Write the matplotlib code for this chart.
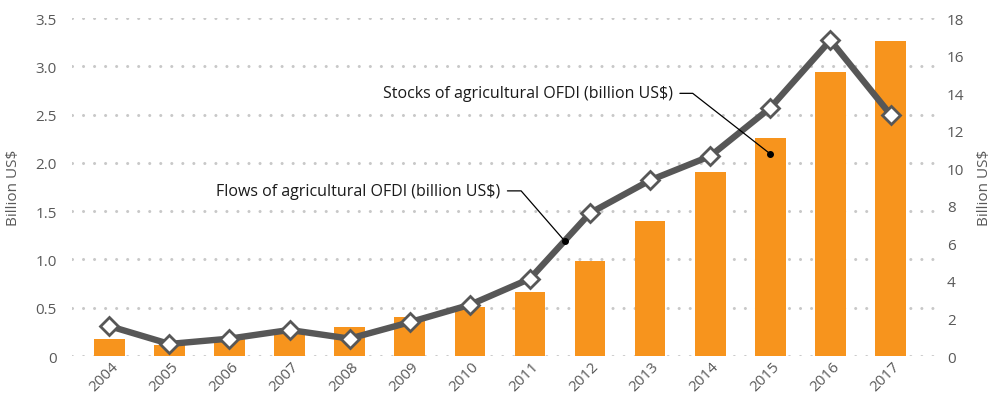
"""
Agricultural OFDI — stocks (bars, right axis) vs flows (line, left axis), 2004-2017
"""

import matplotlib
matplotlib.use("Agg")
import matplotlib.pyplot as plt
import matplotlib.transforms as mtransforms
from matplotlib.ticker import FuncFormatter, MultipleLocator


# Data
years = ["2004", "2005", "2006", "2007", "2008", "2009", "2010",
         "2011", "2012", "2013", "2014", "2015", "2016", "2017"]
stocks = [0.89, 0.57, 0.89, 1.28, 1.53, 2.06, 2.59,
          3.42, 5.06, 7.20, 9.80, 11.60, 15.10, 16.80]
flows = [0.31, 0.125, 0.18, 0.27, 0.18, 0.35, 0.53,
         0.80, 1.48, 1.82, 2.07, 2.57, 3.27, 2.50]

flows_label = "Flows of agricultural OFDI (billion US$)"
stocks_label = "Stocks of agricultural OFDI (billion US$)"
axis_label = "Billion US$"

ORANGE = "#F7941D"
LINE_GREY = "#575757"
TEXT_GREY = "#595959"
GRID_GREY = "#c8c8c8"

plt.rcParams["font.family"] = ["Open Sans", "DejaVu Sans"]

x = list(range(len(years)))

fig = plt.figure(figsize=(9.97, 4.02), dpi=100)
ax = fig.add_axes([0.0722, 0.1119, 0.8656, 0.8408])
ax2 = ax.twinx()

# line axis sits on top of the bar axis
ax.set_zorder(ax2.get_zorder() + 1)
ax.patch.set_visible(False)

# bars: stocks on the right axis
ax2.bar(x, stocks, width=0.51, color=ORANGE, zorder=2)
ax2.set_ylim(0, 18)
ax2.yaxis.set_major_locator(MultipleLocator(2))

# line: flows on the left axis
ax.plot(x, flows, color=LINE_GREY, lw=4.6, marker="D", ms=9.5,
        mfc="white", mec=LINE_GREY, mew=2, zorder=3)
ax.set_ylim(0, 3.5)
ax.yaxis.set_major_locator(MultipleLocator(0.5))
ax.yaxis.set_major_formatter(FuncFormatter(lambda v, p: "0" if v == 0 else f"{v:.1f}"))
ax.set_xlim(-0.62, 13.74)

# dotted gridlines at the left ticks, drawn behind the bars
for v in ax.get_yticks():
    if 0 <= v <= 3.5:
        ax2.axhline(v * 18 / 3.5, color=GRID_GREY, lw=2.2,
                    linestyle=(0, (0.01, 3.6)), dash_capstyle="round", zorder=0)

for a in (ax, ax2):
    for s in a.spines.values():
        s.set_visible(False)
    a.tick_params(length=0, labelsize=11, labelcolor=TEXT_GREY)

ax.tick_params(axis="y", pad=11)
ax2.tick_params(axis="y", pad=8.5)

ax.set_xticks(x)
ax.set_xticklabels(years, rotation=45, ha="right", va="top")
ax.tick_params(axis="x", pad=2)
shift = mtransforms.ScaledTranslation(12 / 100, 0, fig.dpi_scale_trans)
for lbl in ax.get_xticklabels():
    lbl.set_transform(lbl.get_transform() + shift)

ax.set_ylabel(axis_label, fontsize=11, color=TEXT_GREY)
ax.yaxis.set_label_coords(-0.059, 0.5)
ax2.set_ylabel(axis_label, fontsize=11, color=TEXT_GREY, rotation=90)
ax2.yaxis.set_label_coords(1.0487, 0.5)

# leader-line annotations
ax.annotate(flows_label, xy=(7.58, 1.19), xytext=(6.51, 1.71),
            ha="right", va="center", fontsize=11.5, color="#1a1a1a",
            arrowprops=dict(arrowstyle="-", color="black", lw=0.9,
                            shrinkA=3, shrinkB=0, relpos=(1, 0.5),
                            connectionstyle="angle,angleA=0,angleB=131,rad=0"),
            zorder=5)
ax.plot(7.58, 1.19, "o", color="black", ms=4, zorder=6)

ax.annotate(stocks_label, xy=(11, 10.76 * 3.5 / 18), xytext=(9.38, 2.72),
            ha="right", va="center", fontsize=11.5, color="#1a1a1a",
            arrowprops=dict(arrowstyle="-", color="black", lw=0.9,
                            shrinkA=3, shrinkB=0, relpos=(1, 0.5),
                            connectionstyle="angle,angleA=0,angleB=142,rad=0"),
            zorder=5)
ax.plot(11, 10.76 * 3.5 / 18, "o", color="black", ms=4, zorder=6)

fig.savefig("out.png", dpi=100)
